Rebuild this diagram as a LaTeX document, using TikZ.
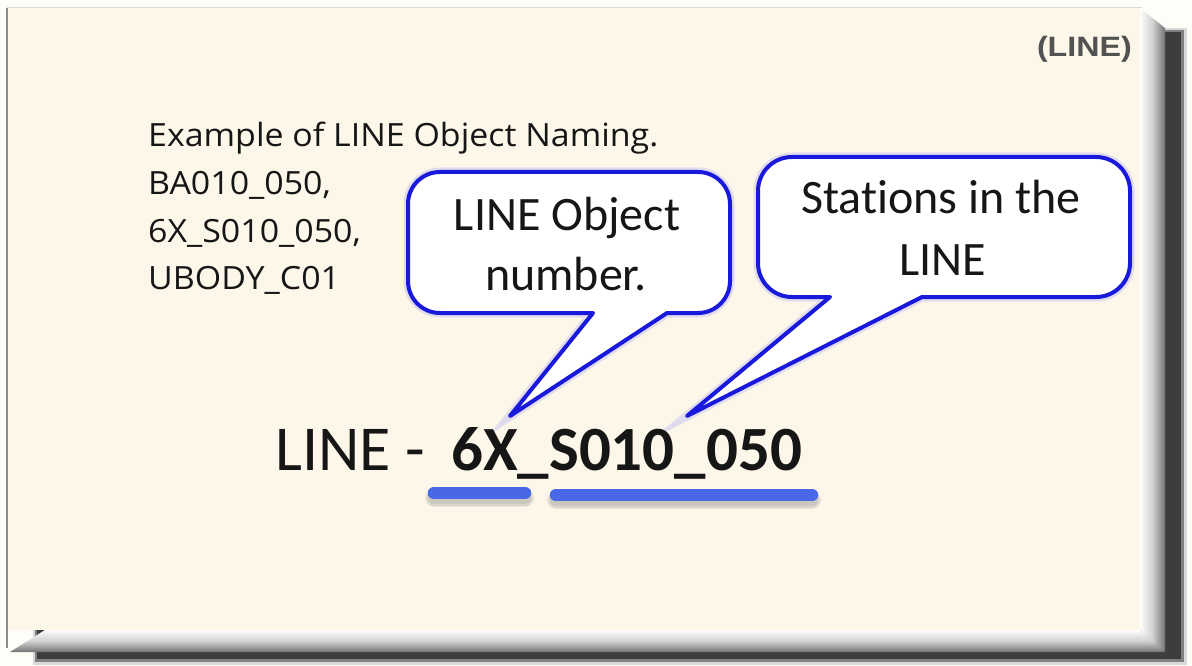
\documentclass[tikz,border=0pt]{standalone}
\usepackage{fontspec}
\setmainfont{Carlito}[Ligatures={NoCommon,NoContextual}]
\newfontfamily\segoe{Open Sans}[FakeStretch=1.06]
\newfontfamily\arialf{Liberation Sans}
\usepackage{graphicx}
\definecolor{cream}{RGB}{253,247,233}
\definecolor{callblue}{RGB}{25,25,220}
\definecolor{barblue}{RGB}{72,104,232}
\definecolor{ink}{RGB}{22,22,22}
\tikzset{
  callout/.style={fill=white, draw=callblue, line width=4pt, line join=round,
    preaction={draw=blue!45, line width=9pt, opacity=0.25}},
  calltext/.style={anchor=base, inner sep=0pt, text=ink, font=\fontsize{48}{58}\selectfont},
  extext/.style={anchor=base west, inner sep=0pt, text=ink, font=\segoe\fontsize{32}{40}\selectfont},
  ubar/.style={draw=barblue, line width=12.5pt, line cap=round},
  ubarshadow/.style={draw=black!60, line cap=round, opacity=0.12},
}
\begin{document}
\begin{tikzpicture}[x=1pt,y=-1pt]
\useasboundingbox (0,0) rectangle (1192,666);
\fill[white!70!cream] (0,0) rectangle (1192,666);
% drop shadow
\fill[black!15] (33,28) rectangle (1187,665);
\fill[black!50] (35,30) rectangle (1184,662);
\fill[black!76] (37,32) rectangle (1181,659);
% panel face
\fill[cream] (7,8) rectangle (1140,630);
% bevels
\shade[left color=white!80!cream, right color=black!55, middle color=black!18]
  (1140,8) -- (1165,28) -- (1165,652) -- (1140,630) -- cycle;
\shade[top color=white!80!cream, bottom color=black!55, middle color=black!18]
  (10,652) -- (45,630) -- (1140,630) -- (1165,652) -- cycle;
\draw[black!45, line width=1.5pt] (7,8) -- (7,648);
\draw[black!15, line width=1pt] (7,8) -- (1142,8);

% corner label
\node[anchor=base east, inner sep=0pt, text=black!68, font=\arialf\bfseries\fontsize{28}{32}\selectfont]
  (lbl) at (1132,57) {\scalebox{1.15}[1]{(LINE)}};

% examples
\node[extext] (ex1) at (148,147) {Example of LINE Object Naming.};
\node[extext] (ex2) at (148,195) {BA010\_050,};
\node[extext] (ex3) at (148,242) {6X\_S010\_050,};
\node[extext] (ex4) at (148,289) {UBODY\_C01};

% callout tips
\coordinate (tip1) at (510,416);
\coordinate (tip2) at (687,416);

% callout 1
\path[callout] (593,313) -- (tip1) -- (667,313) -- (698,313)
  .. controls (715.7,313) and (730,298.7) .. (730,281) -- (730,204)
  .. controls (730,186.3) and (715.7,172) .. (698,172) -- (440,172)
  .. controls (422.3,172) and (408,186.3) .. (408,204) -- (408,281)
  .. controls (408,298.7) and (422.3,313) .. (440,313) -- cycle;
% callout 2
\path[callout] (830,297) -- (tip2) -- (922,297) -- (1096,297)
  .. controls (1114.8,297) and (1130,281.8) .. (1130,263) -- (1130,191)
  .. controls (1130,172.2) and (1114.8,157) .. (1096,157) -- (792,157)
  .. controls (773.2,157) and (758,172.2) .. (758,191) -- (758,263)
  .. controls (758,281.8) and (773.2,297) .. (792,297) -- cycle;

\node[calltext] (c1a) at (567,230) {LINE Object};
\node[calltext] (c1b) at (566,290) {number.};
\node[calltext] (c2a) at (941,213) {Stations in the};
\node[calltext] (c2b) at (943,275) {LINE};

% main line
\node[anchor=base west, inner sep=0pt, text=ink, font=\fontsize{64}{70}\selectfont]
  (main1) at (275,470) {LINE -};
\node[anchor=base west, inner sep=0pt, text=ink, font=\bfseries\fontsize{63}{70}\selectfont]
  (main2) at (451,470) {6X\_S010\_050};

% underlines with soft shadow
\foreach \w in {18,15,12} {
  \draw[ubarshadow, line width=\w pt] (434,498) -- (525,498);
  \draw[ubarshadow, line width=\w pt] (556,500) -- (812,500);
}
\draw[ubar] (434,493) -- (525,493);
\draw[ubar] (556,495) -- (812,495);
\end{tikzpicture}
\end{document}
